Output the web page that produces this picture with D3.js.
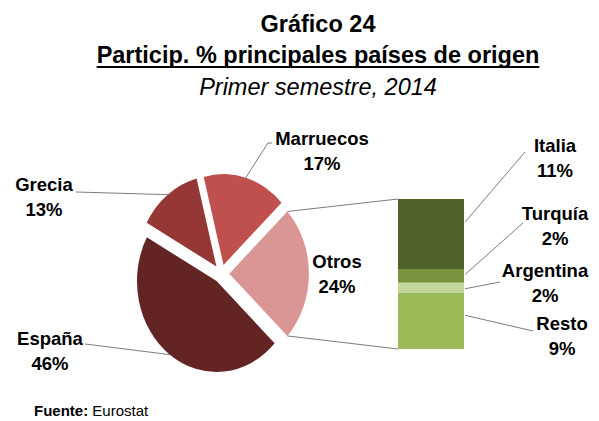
<!DOCTYPE html>
<html>
<head>
<meta charset="utf-8">
<script src="https://cdn.jsdelivr.net/npm/d3@7/dist/d3.min.js"></script>
<style>
  html, body { margin: 0; padding: 0; background: #fff; }
  svg { display: block; }
  text { font-family: "Liberation Sans", Arial, sans-serif; fill: #000; }
</style>
</head>
<body>
<script>
// ---- data ----
const pieCategories = ["Otros", "España", "Grecia", "Marruecos"];
const pieValues = [24, 46, 13, 17];
const pieColors = ["#D99694", "#632523", "#953735", "#C0504D"];

const barCategories = ["Italia", "Turquía", "Argentina", "Resto"];
const barValues = [11.2, 2.2, 1.6, 9.0];
const barColors = ["#4F6228", "#77933C", "#C3D69B", "#9BBB59"];

const titleLines = ["Gráfico 24", "Particip. % principales países de origen", "Primer semestre, 2014"];
const sourceLabel = ["Fuente:", " Eurostat"];

// ---- layout ----
const W = 599, H = 421;
const cx = 221.3, cy = 273.7, R = 79.6, explode = 8, yStretch = 1.142;
const bar = {x: 398, w: 66, top: 199, bottom: 349};

const svg = d3.select("body").append("svg").attr("width", W).attr("height", H);

// titles
svg.append("text").attr("x", 318).attr("y", 32).attr("text-anchor", "middle")
  .style("font-size", "23.5px").style("font-weight", "bold").text(titleLines[0]);
const t2 = svg.append("text").attr("x", 318).attr("y", 63).attr("text-anchor", "middle")
  .style("font-size", "23.5px").style("font-weight", "bold").text(titleLines[1]);
const bb = t2.node().getBBox();
svg.append("rect").attr("x", bb.x).attr("y", 66).attr("width", bb.width).attr("height", 2).attr("fill", "#000");
svg.append("text").attr("x", 318).attr("y", 95).attr("text-anchor", "middle")
  .style("font-size", "23.5px").style("font-style", "italic").text(titleLines[2]);

// pie
const otrosShare = pieValues[0] / d3.sum(pieValues);
const start = Math.PI / 2 - otrosShare * Math.PI;
const pie = d3.pie().sort(null).startAngle(start).endAngle(start + 2 * Math.PI);
const arcs = pie(pieValues);
const arcGen = d3.arc().innerRadius(0).outerRadius(R);

const pg = svg.append("g").attr("transform", `translate(${cx},${cy}) scale(1,${yStretch})`);
pg.selectAll("path").data(arcs).enter().append("path")
  .attr("d", arcGen)
  .attr("fill", (d, i) => pieColors[i])
  .attr("transform", d => {
    const a = (d.startAngle + d.endAngle) / 2;
    return `translate(${Math.sin(a) * explode},${-Math.cos(a) * explode})`;
  });

function piePoint(d, r) {
  const a = (d.startAngle + d.endAngle) / 2;
  return [cx + Math.sin(a) * (r + explode), cy - Math.cos(a) * (r + explode) * yStretch];
}
function pieEdge(angle) {
  return [cx + explode + Math.sin(angle) * R, cy - Math.cos(angle) * R * yStretch];
}

// bar of "Otros"
const y = d3.scaleLinear().domain([0, d3.sum(barValues)]).range([bar.top, bar.bottom]);
let acc = 0;
const segs = barValues.map((v, i) => { const s = {i, y0: acc, y1: acc + v, v}; acc += v; return s; });
svg.append("g").selectAll("rect").data(segs).enter().append("rect")
  .attr("x", bar.x).attr("width", bar.w)
  .attr("y", d => y(d.y0)).attr("height", d => y(d.y1) - y(d.y0))
  .attr("fill", d => barColors[d.i]);

// connector lines
const lineColor = "#6d6d6d";
const otros = arcs[0];
const pTop = pieEdge(otros.startAngle), pBot = pieEdge(otros.endAngle);
svg.append("line").attr("x1", pTop[0]).attr("y1", pTop[1]).attr("x2", bar.x).attr("y2", y(0))
  .attr("stroke", lineColor).attr("stroke-width", 0.9);
svg.append("line").attr("x1", pBot[0]).attr("y1", pBot[1]).attr("x2", bar.x).attr("y2", y(d3.sum(barValues)))
  .attr("stroke", lineColor).attr("stroke-width", 0.9);

// labels
const fs = "18.5px";
function label(x, yb, name, pct) {
  const t = svg.append("text").attr("text-anchor", "middle").style("font-size", fs).style("font-weight", "bold");
  t.append("tspan").attr("x", x).attr("y", yb).text(name);
  t.append("tspan").attr("x", x).attr("y", yb + 24.5).text(pct);
}
const pieTotal = d3.sum(pieValues);
const pct = v => Math.round(v / pieTotal * 100) + "%";

const pieLabelPos = {
  "Marruecos": {x: 322, y: 145, leader: [[268, 143], [272, 143]]},
  "Grecia": {x: 44, y: 191, leader: [[76, 192]]},
  "España": {x: 50, y: 345, leader: [[85, 344]]},
  "Otros": {x: 337, y: 268, leader: null}
};
arcs.forEach((d, i) => {
  const name = pieCategories[i];
  const p = pieLabelPos[name];
  label(p.x, p.y, name, pct(d.value));
  if (p.leader) {
    const pts = [piePoint(d, R)].concat(p.leader);
    svg.append("path").attr("d", d3.line()(pts)).attr("fill", "none")
      .attr("stroke", lineColor).attr("stroke-width", 0.9);
  }
});

const barLabelPos = [
  {x: 555, y: 152, anchorFrac: 0.33, end: [525, 152]},
  {x: 555, y: 220, anchorFrac: 0.4, end: [523, 223]},
  {x: 545, y: 277, anchorFrac: 0.6, end: [500, 282]},
  {x: 562, y: 330, anchorFrac: 0.4, end: [533, 331]}
];
segs.forEach((s, i) => {
  const p = barLabelPos[i];
  label(p.x, p.y, barCategories[i], pct(s.v));
  const sy = y(s.y0 + (s.y1 - s.y0) * p.anchorFrac);
  svg.append("line").attr("x1", bar.x + bar.w + 1).attr("y1", sy).attr("x2", p.end[0]).attr("y2", p.end[1])
    .attr("stroke", lineColor).attr("stroke-width", 0.9);
});

// source
const src = svg.append("text").attr("x", 34).attr("y", 416).style("font-size", "15px");
src.append("tspan").style("font-weight", "bold").text(sourceLabel[0]);
src.append("tspan").text(sourceLabel[1]);
</script>
</body>
</html>
